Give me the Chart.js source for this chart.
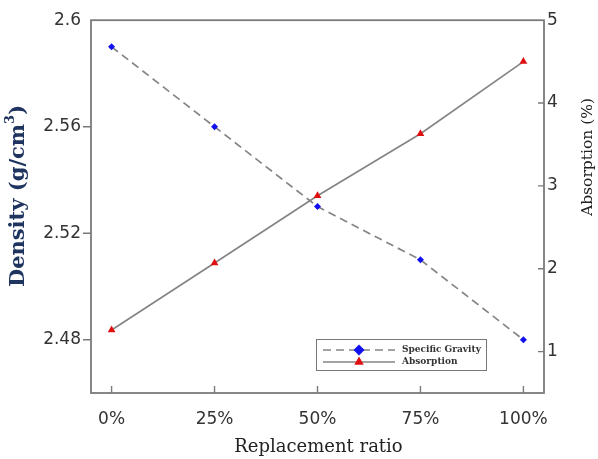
<!DOCTYPE html>
<html>
<head>
<meta charset="utf-8">
<title>Density and absorption vs replacement ratio</title>
<script src="https://cdn.jsdelivr.net/npm/chart.js@4.4.1/dist/chart.umd.min.js"></script>
<style>
  html, body { margin: 0; padding: 0; background: #fff; }
  #chart { display: block; }
</style>
</head>
<body>
<canvas id="chart" width="598" height="459"></canvas>
<script>
// replacement ratio categories, placed at 0..4 on a linear x scale
const ratioLabels = ['0%', '25%', '50%', '75%', '100%'];
const ratioPos = [0, 1, 2, 3, 4];

// specific gravity (g/cm3), left axis
const specificGravity = [2.59, 2.56, 2.53, 2.51, 2.48];
// water absorption (%), right axis
const absorption = [1.26, 2.07, 2.88, 3.63, 4.50];

const densityTicks = [2.48, 2.52, 2.56, 2.6];
const absorptionTicks = [1, 2, 3, 4, 5];

const lineGray = '#858585';
const frameGray = '#7a7a7a';
const tickFont = { family: 'DejaVu Sans', size: 17 };

function points(values) {
    return ratioPos.map((x, i) => ({ x: x, y: values[i] }));
}

// box, inward/outward tick marks, titles and the legend box
const framePlugin = {
    id: 'frame',
    beforeDatasetsDraw(chart) {
        const ctx = chart.ctx;
        const a = chart.chartArea;
        const sx = chart.scales.x, sy = chart.scales.y, sy1 = chart.scales.y1;
        ctx.save();
        ctx.strokeStyle = frameGray;
        ctx.lineWidth = 1.8;
        ctx.strokeRect(a.left, a.top, a.right - a.left, a.bottom - a.top);
        ctx.lineWidth = 1.4;
        ctx.beginPath();
        densityTicks.forEach(v => {
            if (v >= 2.6) return;
            const y = sy.getPixelForValue(v);
            ctx.moveTo(a.left - 8, y); ctx.lineTo(a.left, y);
        });
        absorptionTicks.forEach(v => {
            if (v >= 5) return;
            const y = sy1.getPixelForValue(v);
            ctx.moveTo(a.right - 6, y); ctx.lineTo(a.right, y);
        });
        ratioPos.forEach(v => {
            const x = sx.getPixelForValue(v);
            ctx.moveTo(x, a.bottom - 7); ctx.lineTo(x, a.bottom);
        });
        ctx.stroke();
        ctx.restore();
    },
    afterDraw(chart) {
        const ctx = chart.ctx;
        const a = chart.chartArea;
        ctx.save();

        // left axis title with superscript
        ctx.translate(19, 196);
        ctx.rotate(-Math.PI / 2);
        ctx.fillStyle = '#1f3560';
        ctx.textBaseline = 'middle';
        const big = 'bold 21px "DejaVu Serif"';
        const small = 'bold 13px "DejaVu Serif"';
        ctx.font = big;
        const w1 = ctx.measureText('Density (g/cm').width;
        const w3 = ctx.measureText(')').width;
        ctx.font = small;
        const w2 = ctx.measureText('3').width;
        let x0 = -(w1 + w2 + w3) / 2;
        ctx.font = big;
        ctx.textAlign = 'left';
        ctx.fillText('Density (g/cm', x0, 0);
        ctx.font = small;
        ctx.fillText('3', x0 + w1, -8);
        ctx.font = big;
        ctx.fillText(')', x0 + w1 + w2, 0);
        ctx.restore();

        // right axis title
        ctx.save();
        ctx.translate(588, 157);
        ctx.rotate(-Math.PI / 2);
        ctx.fillStyle = '#222';
        ctx.font = '15.5px "DejaVu Serif"';
        ctx.textAlign = 'center';
        ctx.textBaseline = 'middle';
        ctx.fillText('Absorption (%)', 0, 0);
        ctx.restore();

        // x axis title
        ctx.save();
        ctx.fillStyle = '#222';
        ctx.font = '18px "DejaVu Serif"';
        ctx.textAlign = 'center';
        ctx.textBaseline = 'middle';
        ctx.fillText('Replacement ratio', (a.left + a.right) / 2 + 1, 447);
        ctx.restore();

        // legend box inside the plot
        const lx = 316, ly = 339, lw = 170, lh = 31;
        ctx.save();
        ctx.strokeStyle = '#777';
        ctx.lineWidth = 1;
        ctx.fillStyle = '#fff';
        ctx.fillRect(lx, ly, lw, lh);
        ctx.strokeRect(lx + 0.5, ly + 0.5, lw, lh);
        chart.data.datasets.forEach((ds, i) => {
            const y = ly + 11 + i * 12;
            ctx.strokeStyle = ds.borderColor;
            ctx.lineWidth = 1.4;
            ctx.setLineDash(ds.borderDash || []);
            ctx.beginPath();
            ctx.moveTo(lx + 7, y);
            ctx.lineTo(lx + 79, y);
            ctx.stroke();
            ctx.setLineDash([]);
            ctx.fillStyle = ds.pointBackgroundColor;
            ctx.strokeStyle = ds.pointBackgroundColor;
            Chart.helpers.drawPoint(ctx, { pointStyle: ds.pointStyle, radius: 5.5, rotation: 0, borderWidth: 0 }, lx + 43, y);
            ctx.fillStyle = '#333';
            ctx.font = 'bold 9px "DejaVu Serif"';
            ctx.textAlign = 'left';
            ctx.textBaseline = 'middle';
            ctx.fillText(ds.label, lx + 86, y);
        });
        ctx.restore();
    }
};

new Chart(document.getElementById('chart'), {
    type: 'line',
    data: {
        datasets: [
            {
                label: 'Specific Gravity',
                data: points(specificGravity),
                yAxisID: 'y',
                borderColor: lineGray,
                borderWidth: 1.7,
                borderDash: [8, 5],
                pointStyle: 'rectRot',
                pointRadius: 3.5,
                pointBorderWidth: 0,
                pointBackgroundColor: '#1010f0',
                pointBorderColor: '#1010f0'
            },
            {
                label: 'Absorption',
                data: points(absorption),
                yAxisID: 'y1',
                borderColor: lineGray,
                borderWidth: 1.7,
                pointStyle: 'triangle',
                pointRadius: 4.5,
                pointBorderWidth: 0,
                pointBackgroundColor: '#e01010',
                pointBorderColor: '#e01010'
            }
        ]
    },
    options: {
        responsive: false,
        animation: false,
        clip: false,
        layout: { padding: { top: 17, left: 0, right: 0, bottom: 0 } },
        plugins: { legend: { display: false }, tooltip: { enabled: false } },
        scales: {
            x: {
                type: 'linear',
                position: 'bottom',
                min: -0.2,
                max: 4.2,
                afterBuildTicks: s => { s.ticks = ratioPos.map(v => ({ value: v })); },
                afterFit: s => { s.height = 66; },
                ticks: {
                    callback: v => ratioLabels[ratioPos.indexOf(v)],
                    font: tickFont,
                    color: '#333',
                    padding: 16,
                    maxRotation: 0,
                    autoSkip: false
                },
                grid: { drawOnChartArea: false, drawTicks: false },
                border: { display: false }
            },
            y: {
                position: 'left',
                min: 2.46,
                max: 2.6,
                afterBuildTicks: s => { s.ticks = densityTicks.map(v => ({ value: v })); },
                afterFit: s => { s.width = 91; },
                ticks: { callback: v => String(v), font: tickFont, color: '#333', padding: 10 },
                grid: { drawOnChartArea: false, drawTicks: false },
                border: { display: false }
            },
            y1: {
                position: 'right',
                min: 0.5,
                max: 5,
                afterBuildTicks: s => { s.ticks = absorptionTicks.map(v => ({ value: v })); },
                afterFit: s => { s.width = 54; },
                ticks: { callback: v => String(v), font: tickFont, color: '#333', padding: 3 },
                grid: { drawOnChartArea: false, drawTicks: false },
                border: { display: false }
            }
        }
    },
    plugins: [framePlugin]
});
</script>
</body>
</html>
